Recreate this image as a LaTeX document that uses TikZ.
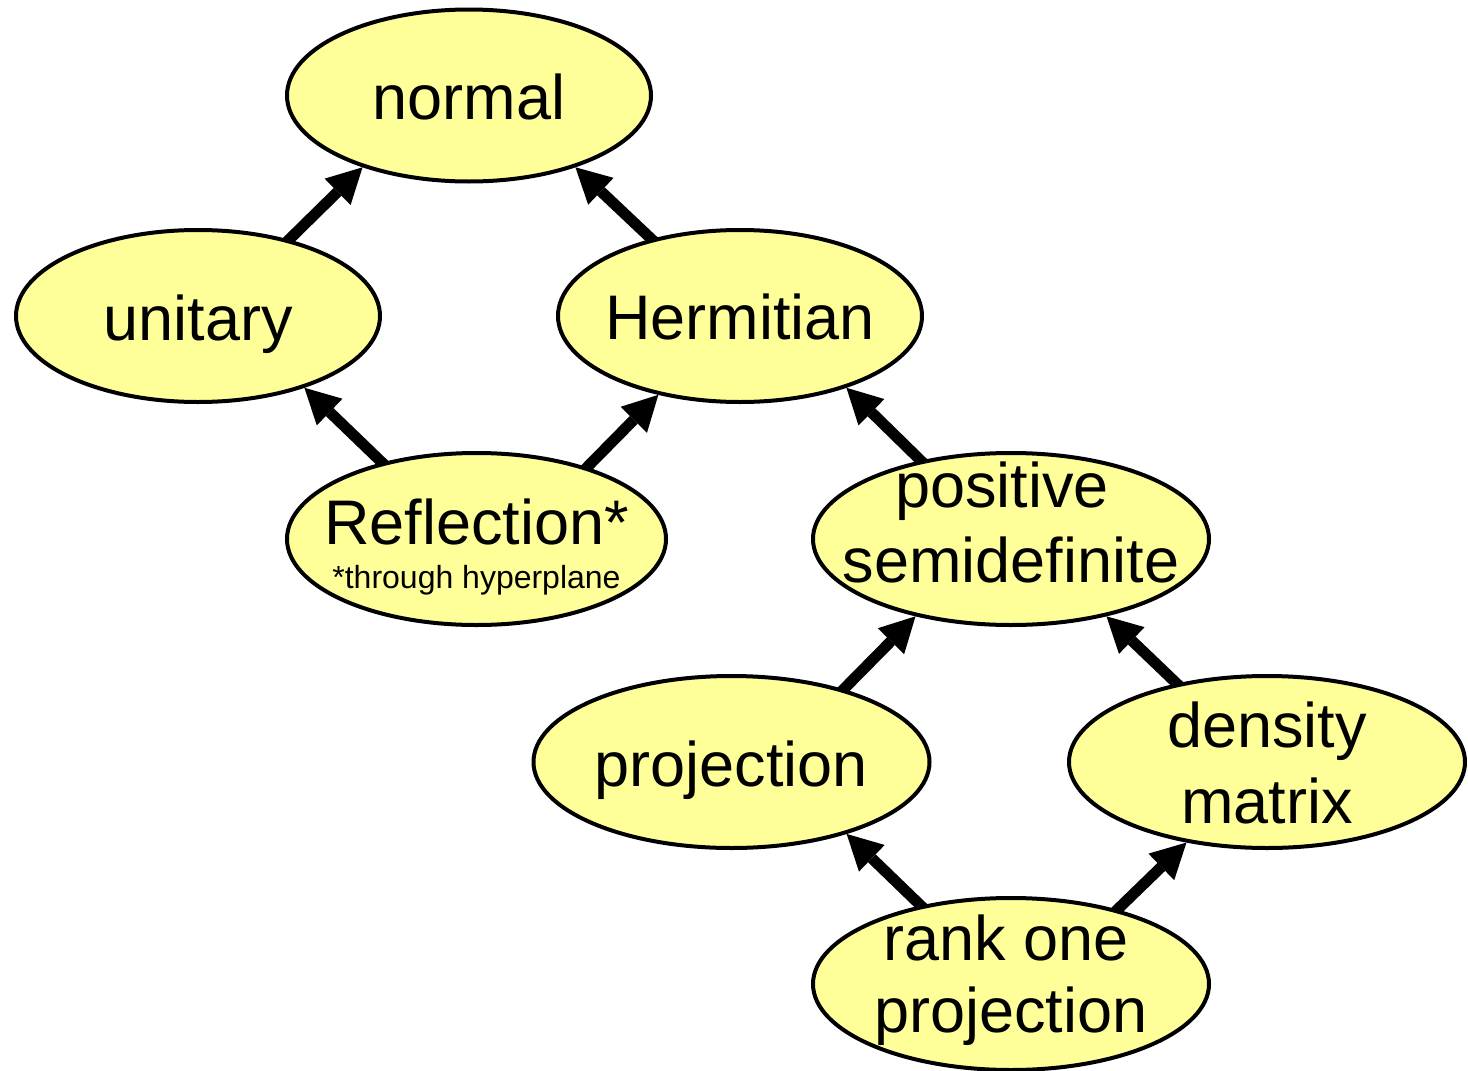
\documentclass[tikz,border=0pt]{standalone}
\usepackage{fontspec}
\setmainfont{Liberation Sans}
\usetikzlibrary{shapes.geometric,arrows.meta,backgrounds}
\definecolor{ellfill}{RGB}{255,255,153}
\begin{document}
\begin{tikzpicture}[x=1pt,y=-1pt,
  ell/.style={ellipse, draw=black, line width=4pt, fill=ellfill, inner sep=0pt},
  smallell/.style={minimum width=364pt, minimum height=172pt},
  midell/.style={minimum width=379pt, minimum height=172pt},
  bigell/.style={minimum width=396pt, minimum height=172pt},
  txt/.style={font=\fontsize{63}{75}\selectfont, anchor=base, inner sep=0pt},
  notetxt/.style={font=\fontsize{32}{38}\selectfont, anchor=base, inner sep=0pt},
  arr/.style={line width=11pt, -{Triangle[length=35pt,width=37pt,line width=0pt]}, shorten <=-6pt}
]
\useasboundingbox (0,0) rectangle (1468,1071);

% ellipses
\node[ell,smallell] (normal) at (469,95.5) {};
\node[ell,smallell] (unitary) at (198,316) {};
\node[ell,smallell] (hermitian) at (740,316) {};
\node[ell,midell] (reflection) at (476.5,539) {};
\node[ell,bigell] (psd) at (1011,539) {};
\node[ell,bigell] (projection) at (731.5,762) {};
\node[ell,bigell] (density) at (1267,762) {};
\node[ell,bigell] (rankone) at (1011,984) {};

% texts
\node[txt] (normal-t) at ([yshift=-24pt]normal.center) {normal};
\node[txt] (unitary-t) at ([yshift=-24pt]unitary.center) {unitary};
\node[txt] (hermitian-t) at ([yshift=-23pt]hermitian.center) {Hermitian};
\node[txt] (reflection-t) at ([yshift=-5pt]reflection.center) {Reflection*};
\node[notetxt] (reflection-n) at ([yshift=-49pt]reflection.center) {*through hyperplane};
\node[txt] (psd-t1) at ([xshift=-9pt,yshift=32pt]psd.center) {positive};
\node[txt] (psd-t2) at ([yshift=-43pt]psd.center) {semidefinite};
\node[txt] (projection-t) at ([yshift=-24pt]projection.center) {projection};
\node[txt] (density-t1) at ([yshift=15pt]density.center) {density};
\node[txt] (density-t2) at ([yshift=-61pt]density.center) {matrix};
\node[txt] (rankone-t1) at ([xshift=-5pt,yshift=24pt]rankone.center) {rank one};
\node[txt] (rankone-t2) at ([yshift=-48pt]rankone.center) {projection};

% arrows
\begin{scope}[on background layer]
\draw[arr] (unitary.40) -- (normal.214);
\draw[arr] (hermitian.139) -- (normal.-34);
\draw[arr] (reflection.141.6) -- (unitary.-34.7);
\draw[arr] (reflection.33) -- (hermitian.224.6);
\draw[arr] (psd.139.4) -- (hermitian.-34.9);
\draw[arr] (projection.33.7) -- (psd.219.6);
\draw[arr] (density.139.1) -- (psd.-39.6);
\draw[arr] (rankone.139.4) -- (projection.-32.8);
\draw[arr] (rankone.35.2) -- (density.225.7);
\end{scope}
\end{tikzpicture}
\end{document}
